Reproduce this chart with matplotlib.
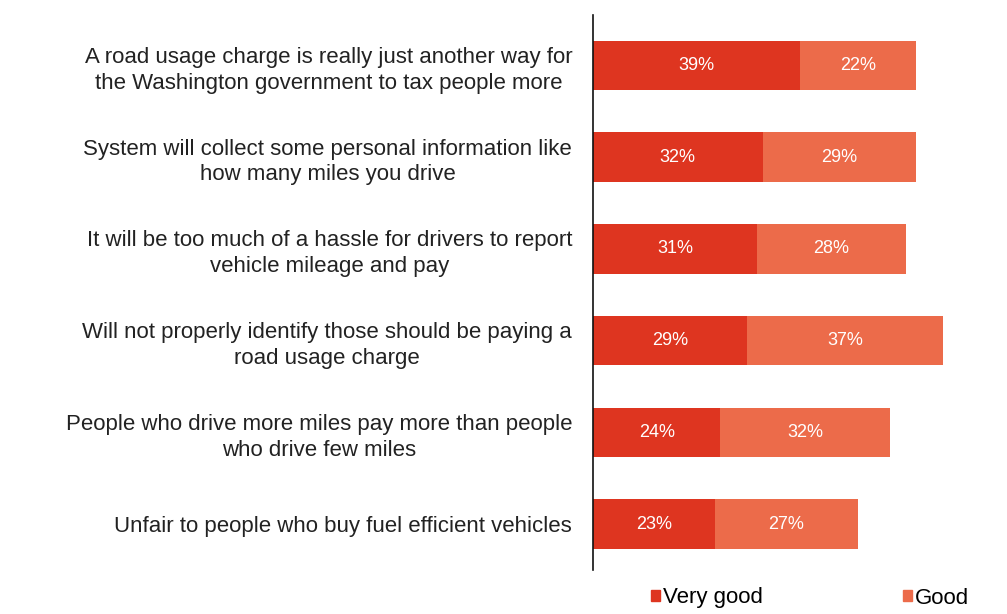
import matplotlib.pyplot as plt
import numpy as np
from matplotlib.patches import Patch

plt.rcParams['font.family'] = ['Liberation Sans', 'DejaVu Sans']

statements = [
    "A road usage charge is really just another way for\nthe Washington government to tax people more",
    "System will collect some personal information like\nhow many miles you drive",
    "It will be too much of a hassle for drivers to report\nvehicle mileage and pay",
    "Will not properly identify those should be paying a\nroad usage charge",
    "People who drive more miles pay more than people\nwho drive few miles",
    "Unfair to people who buy fuel efficient vehicles",
]
very_good = [39, 32, 31, 29, 24, 23]
good = [22, 29, 28, 37, 32, 27]

RED = "#DE3520"
LIGHT = "#EC6B4A"

fig = plt.figure(figsize=(10.07, 6.14), dpi=100)
ax = fig.add_axes([593 / 1007, 1 - 570 / 614, 403 / 1007, 555 / 614])

y = np.arange(len(statements))
h = 0.54
ax.barh(y, very_good, h, color=RED, label="Very good")
ax.barh(y, good, h, left=very_good, color=LIGHT, label="Good")

for yi, v, g in zip(y, very_good, good):
    ax.text(v / 2, yi, f"{v}%", ha="center", va="center", color="white", fontsize=13)
    ax.text(v + g / 2, yi, f"{g}%", ha="center", va="center", color="white", fontsize=13)

ax.set_xlim(0, 76)
ax.set_ylim(5.5, -0.55)
ax.set_yticks(y)
ax.set_yticklabels(statements, fontsize=16, color="#222222", ha="right",
                   multialignment="center", linespacing=1.3)
ax.tick_params(axis="y", length=0, pad=15)
ax.set_xticks([])
for side in ["top", "right", "bottom"]:
    ax.spines[side].set_visible(False)
ax.spines["left"].set_color("#111111")
ax.spines["left"].set_linewidth(1.2)

# legend sits under the bars, one entry at each end
handles = [Patch(color=RED, label="Very good"), Patch(color=LIGHT, label="Good")]
fig.legend(handles=handles, loc="center", bbox_to_anchor=(810 / 1007, 1 - 598 / 614),
           ncol=2, frameon=False, fontsize=16, handlelength=0.4, handleheight=0.4,
           handletextpad=0.15, columnspacing=6.3)

fig.savefig("out.png", dpi=100)
